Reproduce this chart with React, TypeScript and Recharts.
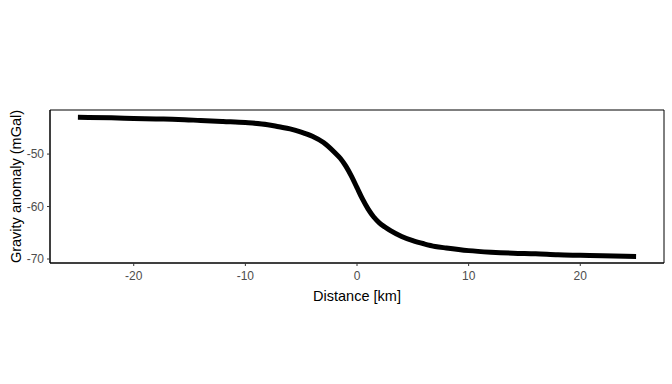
import React from 'react'
import {
  LineChart,
  Line,
  XAxis,
  YAxis,
  ReferenceArea,
  Label,
} from 'recharts'

const distanceKm = [
  -25, -22, -20, -18, -16, -14, -12, -10, -8, -7, -6, -5, -4, -3, -2, -1.5, -1, -0.5,
  0, 0.5, 1, 1.5, 2, 2.5, 3, 4, 5, 6, 7, 8, 10, 12, 14, 16, 18, 20, 22, 25,
]
const anomalyMGal = [
  -43.0, -43.1, -43.2, -43.3, -43.4, -43.6, -43.8, -44.0, -44.4, -44.8, -45.2, -45.8, -46.6,
  -47.8, -49.7, -50.8, -52.3, -54.2, -56.4, -58.6, -60.5, -62.0, -63.1, -63.9, -64.6, -65.7,
  -66.5, -67.1, -67.6, -67.9, -68.4, -68.7, -68.9, -69.0, -69.2, -69.3, -69.4, -69.5,
]
const xTicks = [-20, -10, 0, 10, 20]
const yTicks = [-70, -60, -50]

const data = distanceKm.map((x, i) => ({ x, g: anomalyMGal[i] }))

const X_DOMAIN: [number, number] = [-27.5, 27.5]
const Y_DOMAIN: [number, number] = [-70.76, -41.6]

const tickStyle = { fill: '#4d4d4d', fontSize: 12, fontFamily: 'Liberation Sans, Arial, sans-serif' }
const titleStyle = { fill: '#000', fontSize: 14.5, fontFamily: 'Liberation Sans, Arial, sans-serif' }

export default function App() {
  return (
    <div style={{ position: 'absolute', left: 0, top: 0, width: 672, height: 384, background: '#fff' }}>
      <LineChart width={672} height={384} data={data} margin={{ top: 110, right: 8, bottom: 81, left: 0 }}>
        <XAxis
          dataKey="x"
          type="number"
          domain={X_DOMAIN}
          ticks={xTicks}
          allowDataOverflow
          height={40}
          tick={tickStyle}
          tickSize={3}
          tickMargin={5}
          tickLine={{ stroke: '#333' }}
          axisLine={{ stroke: '#000' }}
        >
          <Label value="Distance [km]" position="insideBottom" offset={2} style={titleStyle} />
        </XAxis>
        <YAxis
          type="number"
          domain={Y_DOMAIN}
          ticks={yTicks}
          allowDataOverflow
          width={50}
          tick={tickStyle}
          tickSize={3}
          tickMargin={3}
          tickLine={{ stroke: '#333' }}
          axisLine={{ stroke: '#000' }}
        >
          <Label
            value="Gravity anomaly (mGal)"
            angle={-90}
            position="insideLeft"
            offset={16}
            style={{ ...titleStyle, textAnchor: 'middle' }}
          />
        </YAxis>
        <ReferenceArea
          x1={X_DOMAIN[0]}
          x2={X_DOMAIN[1]}
          y1={Y_DOMAIN[0]}
          y2={Y_DOMAIN[1]}
          fill="none"
          stroke="#000"
          strokeWidth={1}
          ifOverflow="visible"
        />
        <Line
          type="monotone"
          dataKey="g"
          stroke="#000"
          strokeWidth={5}
          dot={false}
          isAnimationActive={false}
        />
      </LineChart>
    </div>
  )
}
